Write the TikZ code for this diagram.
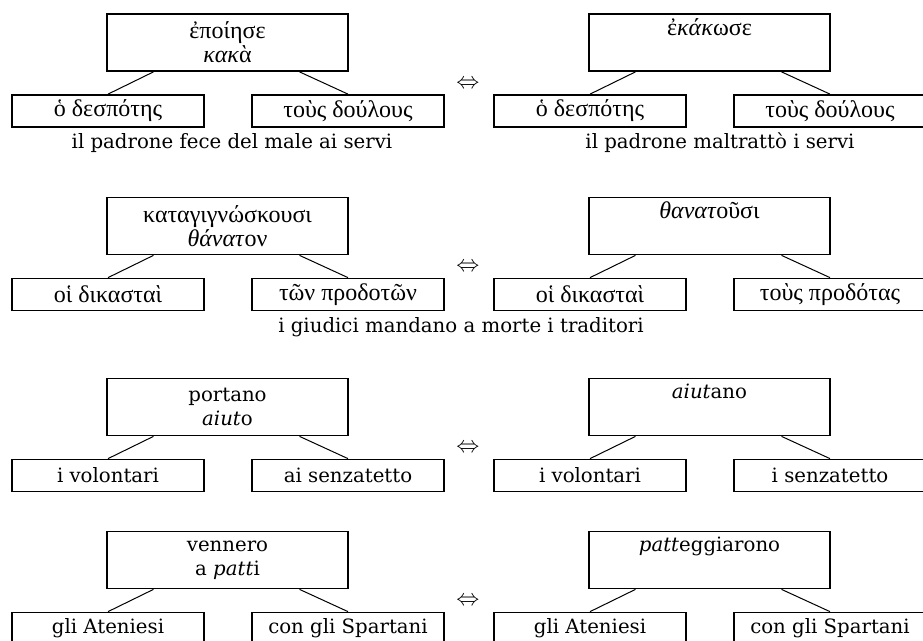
\documentclass[tikz,border=0pt]{standalone}
\usepackage{fontspec}
\setmainfont{Liberation Serif}
\newfontfamily\itafont{DejaVu Serif}
\usetikzlibrary{calc}

\tikzset{
  verbbox/.style={draw, line width=1.3pt, minimum width=180.75pt, minimum height=42.75pt, align=center, inner sep=0pt, font=\fontsize{18}{18}\selectfont},
  argbox/.style={draw, line width=1.3pt, minimum width=144pt, minimum height=24pt, inner sep=0pt, font=\fontsize{18}{18}\selectfont},
  itabox/.style={font=\itafont\fontsize{14.8}{18}\selectfont},
  gloss/.style={font=\itafont\fontsize{14.8}{18}\selectfont},
  equiv/.style={font=\fontsize{17}{17}\selectfont},
  branch/.style={line width=0.75pt}
}

\begin{document}
\begin{tikzpicture}[x=0.75pt,y=-0.75pt]
	\clip (0,0) rectangle (923,641);
	\useasboundingbox (0,0) rectangle (923,641);

	% first pair
	\node[verbbox] (v1) at (227.5,42.5) {ἐποίησε\\\textit{κακ}ὰ};
	\node[argbox] (a1) at ($(v1) + (-119.5,68.5)$) {ὁ δεσπότης};
	\node[argbox] (b1) at ($(v1) + (120.5,68.5)$) {τοὺς δούλους};
	\node[verbbox] (v2) at (709.5,42.5) {ἐ\textit{κάκ}ωσε\\\strut};
	\node[argbox] (a2) at ($(v2) + (-119.5,68.5)$) {ὁ δεσπότης};
	\node[argbox] (b2) at ($(v2) + (120.5,68.5)$) {τοὺς δούλους};
	\node[equiv] (e1) at (468,84) {$\Leftrightarrow$};
	\node[gloss] (g1) at (232,143) {il padrone fece del male ai servi};
	\node[gloss] (g2) at (720,143) {il padrone maltrattò i servi};

	% second pair
	\node[verbbox] (v3) at (227.5,226) {καταγιγνώσκουσι\\\textit{θάνατ}ον};
	\node[argbox] (a3) at ($(v3) + (-119.5,68.5)$) {οἱ δικασταὶ};
	\node[argbox] (b3) at ($(v3) + (120.5,68.5)$) {τῶν προδοτῶν};
	\node[verbbox] (v4) at (709.5,226) {\textit{θανατ}οῦσι\\\strut};
	\node[argbox] (a4) at ($(v4) + (-119.5,68.5)$) {οἱ δικασταὶ};
	\node[argbox] (b4) at ($(v4) + (120.5,68.5)$) {τοὺς προδότας};
	\node[equiv] (e2) at (468,267) {$\Leftrightarrow$};
	\node[gloss] (g3) at (461,327) {i giudici mandano a morte i traditori};

	% third pair
	\node[verbbox, itabox] (v5) at (227.5,407) {portano\\\textit{aiut}o};
	\node[argbox, itabox] (a5) at ($(v5) + (-119.5,68.5)$) {i volontari};
	\node[argbox, itabox] (b5) at ($(v5) + (120.5,68.5)$) {ai senzatetto};
	\node[verbbox, itabox] (v6) at (709.5,407) {\textit{aiut}ano\\\strut};
	\node[argbox, itabox] (a6) at ($(v6) + (-119.5,68.5)$) {i volontari};
	\node[argbox, itabox] (b6) at ($(v6) + (120.5,68.5)$) {i senzatetto};
	\node[equiv] (e3) at (468,448) {$\Leftrightarrow$};

	% fourth pair
	\node[verbbox, itabox] (v7) at (227.5,560) {vennero\\a \textit{patt}i};
	\node[argbox, itabox] (a7) at ($(v7) + (-119.5,68.5)$) {gli Ateniesi};
	\node[argbox, itabox] (b7) at ($(v7) + (120.5,68.5)$) {con gli Spartani};
	\node[verbbox, itabox] (v8) at (709.5,560) {\textit{patt}eggiarono\\\strut};
	\node[argbox, itabox] (a8) at ($(v8) + (-119.5,68.5)$) {gli Ateniesi};
	\node[argbox, itabox] (b8) at ($(v8) + (120.5,68.5)$) {con gli Spartani};
	\node[equiv] (e4) at (468,601) {$\Leftrightarrow$};

	\foreach \i in {1,...,8} {
		\draw[branch] ([xshift=-55.5pt]v\i.south) -- (a\i.north);
		\draw[branch] ([xshift=54pt]v\i.south) -- (b\i.north);
	}
\end{tikzpicture}
\end{document}
